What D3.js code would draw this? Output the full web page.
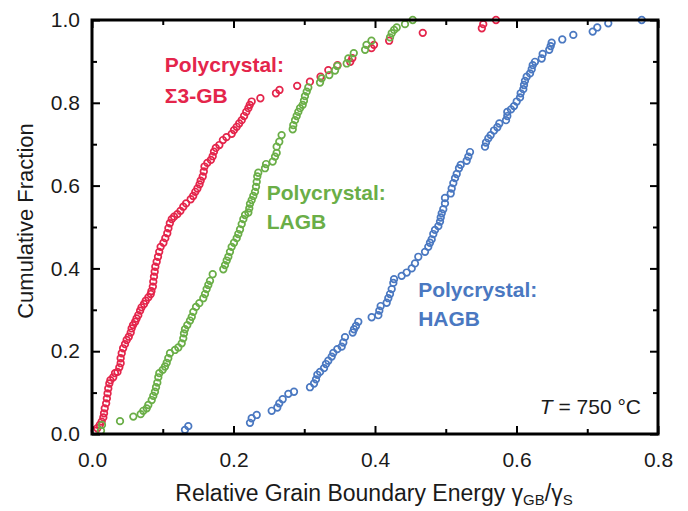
<!DOCTYPE html>
<html>
<head>
<meta charset="utf-8">
<script src="https://cdn.jsdelivr.net/npm/d3@7/dist/d3.min.js"></script>
<style>
  html, body { margin: 0; padding: 0; background: #fff; }
  svg text { font-family: "Liberation Sans", Arial, Helvetica, sans-serif; }
</style>
</head>
<body>
<svg id="chart" width="688" height="511"></svg>
<script>
// Cumulative distributions of relative grain boundary energy, [gamma_GB/gamma_S, fraction]
const sigma3Points = [
  [0.004,0.008],[0.0075,0.014],[0.011,0.022],[0.0137,0.030],[0.016,0.040],[0.017,0.050],
  [0.018,0.062],[0.020,0.074],[0.021,0.086],[0.022,0.098],[0.023,0.110],[0.0245,0.122],
  [0.026,0.130],[0.030,0.137],[0.0325,0.147],[0.036,0.150],[0.0386,0.161],[0.0405,0.171],
  [0.0405,0.183],[0.042,0.195],[0.044,0.207],[0.0466,0.217],[0.049,0.227],[0.052,0.235],
  [0.0547,0.245],[0.056,0.255],[0.058,0.263],[0.061,0.271],[0.063,0.279],[0.0654,0.287],
  [0.068,0.298],[0.070,0.306],[0.0735,0.314],[0.076,0.322],[0.0796,0.330],[0.083,0.338],
  [0.084,0.345],[0.086,0.356],[0.0866,0.368],[0.0876,0.380],[0.0886,0.392],[0.0895,0.404],
  [0.0914,0.416],[0.0933,0.428],[0.095,0.440],[0.097,0.452],[0.101,0.462],[0.1036,0.473],
  [0.1064,0.485],[0.108,0.497],[0.110,0.509],[0.1127,0.519],[0.116,0.525],[0.1206,0.531],
  [0.125,0.539],[0.129,0.549],[0.133,0.557],[0.1395,0.567],[0.143,0.575],[0.146,0.585],
  [0.149,0.593],[0.152,0.603],[0.1536,0.612],[0.1565,0.622],[0.158,0.634],[0.159,0.646],
  [0.163,0.655],[0.168,0.662],[0.1706,0.671],[0.1724,0.682],[0.175,0.691],[0.180,0.698],
  [0.185,0.710],[0.190,0.717],[0.1975,0.725],[0.2007,0.734],[0.2045,0.742],[0.208,0.750],
  [0.2116,0.758],[0.215,0.768],[0.218,0.778],[0.221,0.787],[0.223,0.795],[0.2257,0.803],
  [0.238,0.811],[0.260,0.823],[0.265,0.831],[0.290,0.841],[0.308,0.851],[0.323,0.863],
  [0.334,0.879],[0.347,0.891],[0.365,0.899],[0.368,0.908],[0.395,0.932],[0.3986,0.940],
  [0.420,0.950],[0.4675,0.969],[0.551,0.980],[0.553,0.990],[0.571,1.000]
];

const lagbPoints = [
  [0.0127,0.008],[0.0141,0.022],[0.0396,0.031],[0.0584,0.042],[0.0688,0.048],[0.0725,0.056],
  [0.0773,0.062],[0.0796,0.070],[0.0844,0.082],[0.0866,0.092],[0.089,0.102],[0.0905,0.113],
  [0.0923,0.124],[0.0937,0.137],[0.0951,0.147],[0.0999,0.155],[0.1032,0.163],[0.1056,0.172],
  [0.1078,0.183],[0.1102,0.195],[0.1173,0.203],[0.122,0.209],[0.1268,0.219],[0.129,0.231],
  [0.130,0.243],[0.1314,0.253],[0.1347,0.263],[0.1385,0.274],[0.141,0.283],[0.1432,0.295],
  [0.147,0.307],[0.1517,0.316],[0.1573,0.328],[0.1597,0.338],[0.162,0.350],[0.1644,0.360],
  [0.1668,0.370],[0.1706,0.386],[0.1856,0.398],[0.188,0.408],[0.1904,0.419],[0.1927,0.428],
  [0.195,0.440],[0.1974,0.452],[0.2007,0.462],[0.2045,0.473],[0.2068,0.483],[0.2092,0.494],
  [0.2116,0.507],[0.2139,0.519],[0.2163,0.529],[0.221,0.535],[0.2223,0.545],[0.2233,0.556],
  [0.2257,0.565],[0.228,0.575],[0.2304,0.585],[0.2318,0.597],[0.2328,0.609],[0.2336,0.622],
  [0.235,0.631],[0.2445,0.642],[0.246,0.652],[0.2554,0.658],[0.2587,0.670],[0.261,0.679],
  [0.261,0.694],[0.2647,0.706],[0.268,0.722],[0.2837,0.736],[0.2845,0.746],[0.287,0.758],
  [0.2893,0.768],[0.2916,0.778],[0.294,0.787],[0.2978,0.795],[0.2996,0.805],[0.301,0.816],
  [0.3035,0.827],[0.3057,0.837],[0.3223,0.849],[0.3247,0.859],[0.3354,0.867],[0.3435,0.878],
  [0.3467,0.889],[0.360,0.895],[0.3623,0.907],[0.370,0.920],[0.386,0.928],[0.388,0.940],
  [0.395,0.950],[0.4212,0.958],[0.4236,0.968],[0.427,0.976],[0.4307,0.982],[0.4424,0.990],
  [0.4533,1.000]
];

const hagbPoints = [
  [0.1314,0.010],[0.1361,0.019],[0.2233,0.027],[0.2257,0.038],[0.2328,0.046],[0.254,0.056],
  [0.2619,0.064],[0.2647,0.074],[0.2695,0.084],[0.2775,0.097],[0.2855,0.102],[0.3081,0.113],
  [0.3138,0.122],[0.3166,0.132],[0.3185,0.143],[0.3223,0.150],[0.3279,0.159],[0.3307,0.169],
  [0.334,0.177],[0.3388,0.187],[0.3411,0.196],[0.3467,0.205],[0.3529,0.211],[0.3552,0.221],
  [0.3576,0.234],[0.3685,0.245],[0.3703,0.253],[0.3731,0.261],[0.3764,0.271],[0.3953,0.282],
  [0.4047,0.287],[0.4061,0.298],[0.408,0.309],[0.4165,0.317],[0.4188,0.328],[0.4212,0.338],
  [0.4236,0.350],[0.4259,0.365],[0.4269,0.374],[0.4377,0.382],[0.4448,0.390],[0.4519,0.400],
  [0.4565,0.412],[0.4612,0.428],[0.4707,0.440],[0.4753,0.452],[0.4777,0.462],[0.4801,0.470],
  [0.4824,0.483],[0.4848,0.493],[0.4895,0.502],[0.4919,0.513],[0.4929,0.523],[0.4943,0.533],
  [0.4965,0.543],[0.4989,0.557],[0.4989,0.570],[0.507,0.581],[0.5084,0.593],[0.5107,0.606],
  [0.5131,0.618],[0.5155,0.628],[0.5187,0.642],[0.5211,0.650],[0.5296,0.660],[0.5319,0.670],
  [0.5343,0.681],[0.5555,0.694],[0.5569,0.704],[0.5601,0.714],[0.5635,0.722],[0.5682,0.733],
  [0.5729,0.741],[0.5757,0.750],[0.5852,0.758],[0.587,0.768],[0.587,0.778],[0.5922,0.784],
  [0.5965,0.792],[0.6003,0.803],[0.605,0.813],[0.6059,0.823],[0.6096,0.833],[0.6106,0.843],
  [0.612,0.853],[0.6144,0.863],[0.6191,0.871],[0.6215,0.881],[0.6229,0.891],[0.6261,0.899],
  [0.6356,0.907],[0.637,0.918],[0.6463,0.928],[0.6483,0.937],[0.6497,0.945],[0.6647,0.953],
  [0.6803,0.964],[0.7077,0.972],[0.7142,0.982],[0.7297,0.992],[0.777,1.000]
];

const xTicks = [0.0, 0.2, 0.4, 0.6, 0.8];
const yTicks = [0.0, 0.2, 0.4, 0.6, 0.8, 1.0];
const xMinorTicks = [0.1, 0.3, 0.5, 0.7];
const yMinorTicks = [0.1, 0.3, 0.5, 0.7, 0.9];

const seriesNames = ["Σ3-GB", "LAGB", "HAGB"];
const seriesColors = ["#e4254b", "#6aae47", "#4a78c1"];

const svg = d3.select("#chart");
const margin = { left: 92, right: 30, top: 20, bottom: 77 };
const W = 688, H = 511;
const x = d3.scaleLinear().domain([0, 0.8]).range([margin.left, W - margin.right]);
const y = d3.scaleLinear().domain([0, 1.0]).range([H - margin.bottom, margin.top]);

const fmt = d3.format(".1f");

// data markers (open circles), drawn under the frame
const series = [sigma3Points, lagbPoints, hagbPoints];
series.forEach((pts, i) => {
  svg.append("g")
    .selectAll("circle")
    .data(pts)
    .join("circle")
    .attr("cx", d => x(d[0]))
    .attr("cy", d => y(d[1]))
    .attr("r", 3.3)
    .attr("fill", "none")
    .attr("stroke", seriesColors[i])
    .attr("stroke-width", 1.7);
});

// axes with inward ticks on all four sides
function styleAxis(g) {
  g.select(".domain").remove();
  g.selectAll(".tick line").attr("stroke", "#000").attr("stroke-width", 2);
  g.selectAll(".tick text").attr("fill", "#1a1a1a").style("font-size", "21px");
  return g;
}
function addAxis(axis, tx, ty) {
  return styleAxis(svg.append("g").attr("transform", `translate(${tx},${ty})`).call(axis));
}
addAxis(d3.axisBottom(x).tickValues(xTicks).tickFormat(fmt).tickSize(-8).tickPadding(18), 0, y(0));
addAxis(d3.axisBottom(x).tickValues(xMinorTicks).tickFormat("").tickSize(-5), 0, y(0));
addAxis(d3.axisTop(x).tickValues(xTicks).tickFormat("").tickSize(-8), 0, y(1));
addAxis(d3.axisTop(x).tickValues(xMinorTicks).tickFormat("").tickSize(-5), 0, y(1));
addAxis(d3.axisLeft(y).tickValues(yTicks).tickFormat(fmt).tickSize(-8).tickPadding(12), x(0), 0);
addAxis(d3.axisLeft(y).tickValues(yMinorTicks).tickFormat("").tickSize(-5), x(0), 0);
addAxis(d3.axisRight(y).tickValues(yTicks).tickFormat("").tickSize(-8), x(0.8), 0);
addAxis(d3.axisRight(y).tickValues(yMinorTicks).tickFormat("").tickSize(-5), x(0.8), 0);

// plot frame
svg.append("rect")
  .attr("x", x(0)).attr("y", y(1))
  .attr("width", x(0.8) - x(0)).attr("height", y(0) - y(1))
  .attr("fill", "none").attr("stroke", "#000").attr("stroke-width", 3);

// axis titles
const xTitle = svg.append("text")
  .attr("x", 374).attr("y", 501)
  .attr("text-anchor", "middle")
  .style("font-size", "23px").attr("fill", "#1a1a1a");
xTitle.append("tspan").text("Relative Grain Boundary Energy γ");
xTitle.append("tspan").text("GB").attr("dy", 4).style("font-size", "15px");
xTitle.append("tspan").text("/γ").attr("dy", -4);
xTitle.append("tspan").text("S").attr("dy", 4).style("font-size", "15px");

svg.append("text")
  .attr("transform", `translate(33,221) rotate(-90)`)
  .attr("text-anchor", "middle")
  .style("font-size", "22px").attr("fill", "#1a1a1a")
  .text("Cumulative Fraction");

// series labels
const labelPos = [
  { x: 0.103, y: 0.875, gap: 31 },
  { x: 0.247, y: 0.565, gap: 29 },
  { x: 0.461, y: 0.331, gap: 29 }
];
seriesNames.forEach((name, i) => {
  const t = svg.append("text")
    .attr("x", x(labelPos[i].x)).attr("y", y(labelPos[i].y))
    .attr("fill", seriesColors[i])
    .style("font-size", "21px").style("font-weight", "bold");
  t.append("tspan").text("Polycrystal:");
  t.append("tspan").attr("x", x(labelPos[i].x)).attr("dy", labelPos[i].gap).text(name);
});

// temperature annotation
const tLabel = svg.append("text")
  .attr("x", x(0.776)).attr("y", 414)
  .attr("text-anchor", "end")
  .style("font-size", "21px").attr("fill", "#1a1a1a");
tLabel.append("tspan").text("T").style("font-style", "italic");
tLabel.append("tspan").text(" = 750 °C");
</script>
</body>
</html>
